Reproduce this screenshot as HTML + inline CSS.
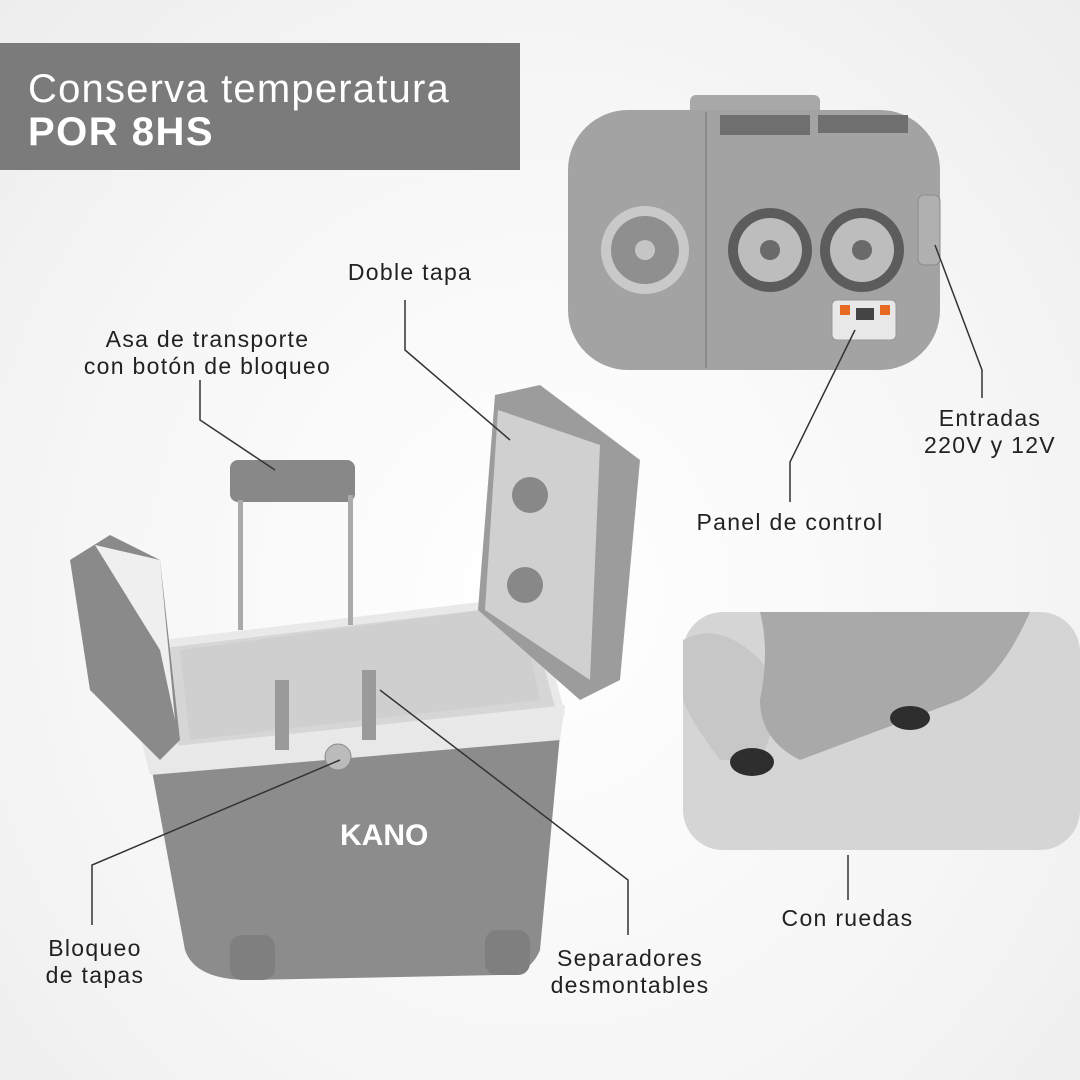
<!DOCTYPE html>
<html><head><meta charset="utf-8"><style>
html,body{margin:0;padding:0}
body{width:1080px;height:1080px;position:relative;overflow:hidden;background:radial-gradient(ellipse at 50% 55%,#ffffff 0%,#f6f6f6 60%,#ededed 100%);font-family:"Liberation Sans",sans-serif}
.t{position:absolute;color:#222;font-size:23px;line-height:27px;text-align:center;letter-spacing:1.3px;white-space:nowrap}
#title{position:absolute;left:0;top:43px;width:520px;height:127px;background:#7b7b7b;color:#fff}
</style></head><body>
<div id="title">
<div style="position:absolute;left:28px;top:24px;font-size:40px;line-height:44px;letter-spacing:1.2px;white-space:nowrap">Conserva temperatura</div>
<div style="position:absolute;left:28px;top:67px;font-size:40px;font-weight:bold;line-height:44px;letter-spacing:1.5px">POR 8HS</div>
</div>

<svg width="1080" height="1080" style="position:absolute;left:0;top:0">
<rect x="690" y="95" width="130" height="30" rx="6" fill="#a8a8a8"/>
<rect x="568" y="110" width="372" height="260" rx="60" fill="#a3a3a3"/>
<line x1="706" y1="112" x2="706" y2="368" stroke="#8a8a8a" stroke-width="2"/>
<g fill="#6f6f6f"><rect x="720" y="115" width="90" height="20"/><rect x="818" y="115" width="90" height="18"/></g>
<g>
<circle cx="645" cy="250" r="44" fill="#c9c9c9"/><circle cx="645" cy="250" r="34" fill="#8f8f8f"/><circle cx="645" cy="250" r="10" fill="#c5c5c5"/>
<circle cx="770" cy="250" r="42" fill="#5c5c5c"/><circle cx="770" cy="250" r="32" fill="#bdbdbd"/><circle cx="770" cy="250" r="10" fill="#6a6a6a"/>
<circle cx="862" cy="250" r="42" fill="#5c5c5c"/><circle cx="862" cy="250" r="32" fill="#bdbdbd"/><circle cx="862" cy="250" r="10" fill="#6a6a6a"/>
</g>
<rect x="918" y="195" width="22" height="70" rx="6" fill="#b0b0b0" stroke="#8c8c8c"/>
<rect x="832" y="300" width="64" height="40" rx="5" fill="#e8e8e8" stroke="#999"/>
<rect x="840" y="305" width="10" height="10" fill="#e66a22"/><rect x="880" y="305" width="10" height="10" fill="#e66a22"/>
<rect x="856" y="308" width="18" height="12" fill="#444"/>
<rect x="683" y="612" width="397" height="238" rx="40" fill="#d5d5d5"/>
<path d="M683,640 Q720,620 760,660 Q790,700 760,760 L720,760 Q690,720 683,700Z" fill="#c7c7c7"/>
<path d="M760,612 L1030,612 Q1000,680 960,700 L800,760 Q760,740 760,700 Q770,650 760,612Z" fill="#a9a9a9"/>
<ellipse cx="752" cy="762" rx="22" ry="14" fill="#2e2e2e"/><ellipse cx="910" cy="718" rx="20" ry="12" fill="#2e2e2e"/>
<path d="M150,760 L560,735 L540,950 Q530,975 500,975 L250,980 Q195,980 185,950Z" fill="#8c8c8c"/>
<rect x="230" y="935" width="45" height="45" rx="12" fill="#7f7f7f"/><rect x="485" y="930" width="45" height="45" rx="12" fill="#7f7f7f"/>
<path d="M140,735 L565,705 L560,740 L150,775Z" fill="#e8e8e8"/>
<path d="M155,645 L530,600 L560,710 L175,750Z" fill="#d6d6d6" stroke="#e9e9e9" stroke-width="8"/>
<path d="M180,650 L520,605 L540,700 L190,740Z" fill="#cfcfcf"/>
<rect x="275" y="680" width="14" height="70" fill="#9a9a9a"/><rect x="362" y="670" width="14" height="70" fill="#9a9a9a"/>
<circle cx="338" cy="757" r="13" fill="#bbb" stroke="#888"/>
<text x="340" y="845" font-size="30" font-weight="bold" fill="#fff" font-family="Liberation Sans">KANO</text>
<path d="M70,560 L110,535 L160,560 L180,740 L160,760 L90,690Z" fill="#8a8a8a"/>
<path d="M95,545 L160,560 L175,720 L160,650 Z" fill="#efefef"/>
<path d="M495,395 L540,385 L640,460 L620,680 L580,700 L478,610Z" fill="#9c9c9c"/>
<path d="M498,410 L600,445 L590,680 L485,610Z" fill="#d0d0d0"/>
<circle cx="530" cy="495" r="18" fill="#888"/><circle cx="525" cy="585" r="18" fill="#888"/>
<rect x="230" y="460" width="125" height="42" rx="8" fill="#888"/>
<rect x="238" y="500" width="5" height="130" fill="#aaa"/><rect x="348" y="495" width="5" height="130" fill="#aaa"/>
<g fill="none" stroke="#333" stroke-width="1.5">
<polyline points="405,300 405,350 510,440"/>
<polyline points="200,380 200,420 275,470"/>
<polyline points="790,502 790,462 855,330"/>
<polyline points="982,398 982,370 935,245"/>
<polyline points="848,900 848,855"/>
<polyline points="92,925 92,865 340,760"/>
<polyline points="628,935 628,880 380,690"/>
</g>
</svg>

<div class="t" style="left:310px;top:259px;width:200px">Doble tapa</div>
<div class="t" style="left:20px;top:326px;width:375px">Asa de transporte<br>con botón de bloqueo</div>
<div class="t" style="left:890px;top:405px;width:200px">Entradas<br>220V y 12V</div>
<div class="t" style="left:640px;top:509px;width:300px">Panel de control</div>
<div class="t" style="left:740px;top:905px;width:215px">Con ruedas</div>
<div class="t" style="left:10px;top:935px;width:170px">Bloqueo<br>de tapas</div>
<div class="t" style="left:500px;top:945px;width:260px">Separadores<br>desmontables</div>
</body></html>
